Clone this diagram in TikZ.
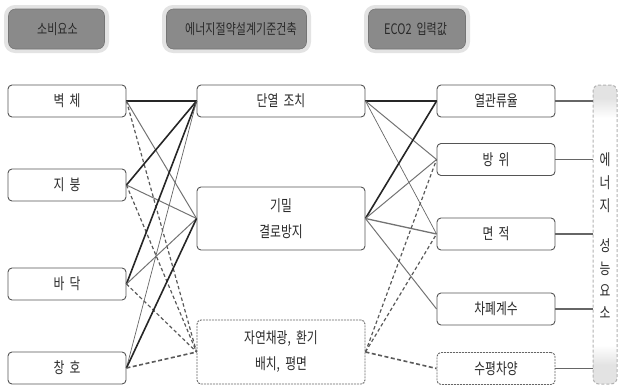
\documentclass[tikz,border=0pt]{standalone}
\usepackage{fontspec}
\setmainfont{Noto Sans CJK KR}[FakeStretch=0.76,WordSpace=2]
\definecolor{txt}{HTML}{2A2A2A}
\definecolor{hdr}{HTML}{8A8A8A}
\definecolor{edge}{HTML}{555555}
\tikzset{
  hbox/.style={rectangle, rounded corners=7pt, fill=hdr, draw=hdr!85!black, line width=0.6pt,
    minimum height=40pt, inner sep=0pt},
  htext/.style={inner sep=0pt, anchor=west, font=\fontsize{14.5}{16}\selectfont, text=txt},
  halo/.style={rounded corners=9pt, draw=gray!22, line width=4pt},
  ebox/.style={rectangle, rounded corners=4pt, fill=white, draw=edge, line width=0.9pt,
    minimum height=32pt, inner sep=0pt, font=\fontsize{15.5}{17}\selectfont, text=txt},
  lbox/.style={ebox, minimum width=118pt},
  mbox/.style={ebox, minimum width=168pt, align=center, font=\fontsize{15.5}{26}\selectfont},
  rbox/.style={ebox, minimum width=118pt},
  dbox/.style={dash pattern=on 2pt off 1pt, draw=black!60},
  vtext/.style={inner sep=0pt, font=\fontsize{15.5}{17}\selectfont, text=txt},
  thk/.style={draw=black!85, line width=1.6pt},
  gry/.style={draw=black!55, line width=1pt},
  thn/.style={draw=black!60, line width=0.7pt},
  dsh/.style={draw=black!65, line width=1.2pt, dash pattern=on 3.5pt off 2.5pt},
  dshk/.style={draw=black!65, line width=1.6pt, dash pattern=on 4pt off 2.5pt},
  tobar/.style={draw=black!60, line width=1.2pt}
}
\begin{document}
\begin{tikzpicture}[x=1pt,y=-1pt]
\useasboundingbox (0,0) rectangle (621,389);
% headers
\draw[halo] (6,7) rectangle (107,51);
\draw[halo] (164,7) rectangle (309,51);
\draw[halo] (366,7) rectangle (468,51);
\node[hbox, minimum width=96pt] (h1) at (56.5,29) {};
\node[hbox, minimum width=140pt] (h2) at (236.5,29) {};
\node[hbox, minimum width=97pt] (h3) at (417,29) {};
\node[htext] (t1) at (37,29) {소비요소};
\node[htext] (t2) at (185,29) {에너지절약설계기준건축};
\node[htext] (t3) at (384,29) {ECO2 입력값};
% bar background
\begin{scope}
\clip[rounded corners=6pt] (593,85) rectangle (617,384);
\fill[white] (593,85) rectangle (617,384);
\fill[gray!22] (593,85) rectangle (617,98);
\shade[top color=gray!22, bottom color=white] (593,98) rectangle (617,118);
\shade[top color=white, bottom color=gray!22] (593,345) rectangle (617,365);
\fill[gray!22] (593,365) rectangle (617,384);
\end{scope}
\node[rectangle, rounded corners=6pt, draw=gray!60, line width=1pt, dash pattern=on 3pt off 2pt,
  minimum width=24pt, minimum height=299pt, inner sep=0pt] (bar) at (605,234.5) {};
\node[vtext] (v1) at (605,160) {에};
\node[vtext] (v2) at (605,183) {너};
\node[vtext] (v3) at (605,206) {지};
\node[vtext] (v4) at (605,246) {성};
\node[vtext] (v5) at (605,268.5) {능};
\node[vtext] (v6) at (605,291) {요};
\node[vtext] (v7) at (605,313) {소};
% left
\node[lbox] (wall) at (67,101) {벽 체};
\node[lbox] (roof) at (67,185) {지 붕};
\node[lbox] (floor) at (67,284) {바 닥};
\node[lbox] (win) at (67,368) {창 호};
% middle
\node[mbox] (ins) at (281,101) {단열 조치};
\node[mbox, minimum height=63pt] (air) at (281,218.5) {기밀\\결로방지};
\node[mbox, dbox, minimum height=64pt] (nat) at (281,352) {자연채광, 환기\\배치, 평면};
% right
\node[rbox] (uval) at (496,101) {열관류율};
\node[rbox] (ori) at (496,159.5) {방 위};
\node[rbox] (area) at (496,234) {면 적};
\node[rbox] (shd) at (496,309) {차폐계수};
\node[rbox, dbox] (hshd) at (496,368.5) {수평차양};
% left -> middle
\draw[thk] (wall.east) -- (ins.west);
\draw[gry] (wall.east) -- (air.west);
\draw[dsh] (wall.east) -- (nat.west);
\draw[thk] (roof.east) -- (ins.west);
\draw[gry] (roof.east) -- (air.west);
\draw[dsh] (roof.east) -- (nat.west);
\draw[thk] (floor.east) -- (ins.west);
\draw[gry] (floor.east) -- (air.west);
\draw[dsh] (floor.east) -- (nat.west);
\draw[thn] (win.east) -- (ins.west);
\draw[thk] (win.east) -- (air.west);
\draw[dshk] (win.east) -- (nat.west);
% middle -> right
\draw[thk] (ins.east) -- (uval.west);
\draw[gry] (ins.east) -- (ori.west);
\draw[thn] (ins.east) -- (area.west);
\draw[thk] (air.east) -- (uval.west);
\draw[gry] (air.east) -- (ori.west);
\draw[gry, line width=1.3pt] (air.east) -- (area.west);
\draw[gry] (air.east) -- (shd.west);
\draw[dsh] (nat.east) -- (ori.west);
\draw[dsh] (nat.east) -- (area.west);
\draw[dshk] (nat.east) -- (hshd.west);
% right -> bar
\draw[tobar] (uval.east) -- (uval.east -| bar.west);
\draw[tobar] (ori.east) -- (ori.east -| bar.west);
\draw[tobar] (area.east) -- (area.east -| bar.west);
\draw[tobar] (shd.east) -- (shd.east -| bar.west);
\draw[tobar] (hshd.east) -- (hshd.east -| bar.west);
\end{tikzpicture}
\end{document}
